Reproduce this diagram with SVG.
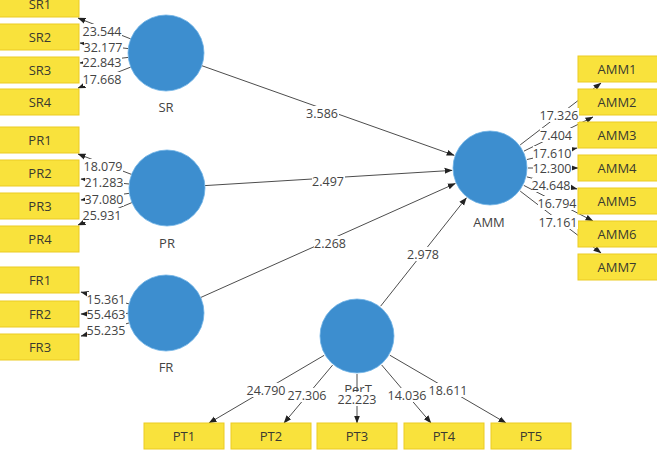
<svg xmlns="http://www.w3.org/2000/svg" width="657" height="450" viewBox="0 0 657 450">
  <style>
    .ind rect { fill: #F9E23C; stroke: #EBCB22; stroke-width: 1; }
    .ind text, .lv text, .lbl text { font-family: "Open Sans", "Noto Sans", sans-serif; fill: #444444; text-anchor: middle; }
    .ind text { font-size: 13px; fill: #3a3a30; }
    .lv circle { fill: #3D8ECF; stroke: #6EB3E6; stroke-width: 0.8; }
    .lv text { font-size: 13px; }
    .edges line { stroke: #4d4d4d; stroke-width: 1; marker-end: url(#arr); }
    .lbl rect { fill: #ffffff; }
    .lbl text { font-size: 12.5px; }
  </style>
  <defs>
    <marker id="arr" markerUnits="userSpaceOnUse" markerWidth="8" markerHeight="8" viewBox="0 0 8 8" refX="7.5" refY="4" orient="auto">
      <path d="M0,1 L8,4 L0,7 Z" fill="#222"/>
    </marker>
  </defs>
  <rect width="657" height="450" fill="#ffffff"/>

  <!-- connectors -->
  <g class="edges">
    <!-- SR loadings -->
    <line x1="130.7" y1="38.9" x2="78" y2="18"/>
    <line x1="128.3" y1="48.6" x2="80" y2="43"/>
    <line x1="128.3" y1="57.4" x2="80" y2="63"/>
    <line x1="130.7" y1="67.1" x2="78" y2="88"/>
    <!-- PR loadings -->
    <line x1="131.5" y1="174.4" x2="78" y2="154"/>
    <line x1="129.2" y1="184" x2="81" y2="179"/>
    <line x1="129.3" y1="193.3" x2="81" y2="200"/>
    <line x1="131.9" y1="202.6" x2="78" y2="225"/>
    <!-- FR loadings -->
    <line x1="129.1" y1="303.9" x2="81" y2="292"/>
    <line x1="128" y1="313.4" x2="81" y2="314"/>
    <line x1="129.3" y1="322.9" x2="81" y2="336"/>
    <!-- AMM loadings -->
    <line x1="520.2" y1="144.9" x2="601" y2="83"/>
    <line x1="524" y1="151.1" x2="593" y2="117"/>
    <line x1="527" y1="159.5" x2="577" y2="148"/>
    <line x1="528" y1="168" x2="578" y2="168"/>
    <line x1="526.9" y1="176.9" x2="577" y2="189"/>
    <line x1="523.8" y1="185.4" x2="593" y2="221"/>
    <line x1="520.2" y1="191.1" x2="601" y2="253"/>
    <!-- PerT loadings -->
    <line x1="324.2" y1="355.3" x2="209" y2="423"/>
    <line x1="332.6" y1="365.1" x2="284" y2="423"/>
    <line x1="357" y1="374" x2="357" y2="423"/>
    <line x1="381.6" y1="364.9" x2="431" y2="423"/>
    <line x1="389.8" y1="355.2" x2="506" y2="423"/>
    <!-- structural paths -->
    <line x1="201.8" y1="65.7" x2="454.2" y2="155.3"/>
    <line x1="204.9" y1="185.6" x2="452.1" y2="170.4"/>
    <line x1="200.7" y1="297.5" x2="455.3" y2="183.5"/>
    <line x1="380.6" y1="306.2" x2="466.4" y2="197.8"/>
  </g>

  <!-- indicators -->
  <g class="ind">
    <g id="SR1"><rect x="-1" y="-9" width="80" height="26"/><text x="40" y="8.5">SR1</text></g>
    <g id="SR2"><rect x="-1" y="24" width="80" height="26"/><text x="40" y="41.5">SR2</text></g>
    <g id="SR3"><rect x="-1" y="57" width="80" height="26"/><text x="40" y="74.5">SR3</text></g>
    <g id="SR4"><rect x="-1" y="89" width="80" height="26"/><text x="40" y="106.5">SR4</text></g>
    <g id="PR1"><rect x="-1" y="127" width="80" height="26"/><text x="40" y="144.5">PR1</text></g>
    <g id="PR2"><rect x="-1" y="160" width="80" height="26"/><text x="40" y="177.5">PR2</text></g>
    <g id="PR3"><rect x="-1" y="193" width="80" height="26"/><text x="40" y="210.5">PR3</text></g>
    <g id="PR4"><rect x="-1" y="226" width="80" height="26"/><text x="40" y="243.5">PR4</text></g>
    <g id="FR1"><rect x="-1" y="267" width="80" height="26"/><text x="40" y="284.5">FR1</text></g>
    <g id="FR2"><rect x="-1" y="301" width="80" height="26"/><text x="40" y="318.5">FR2</text></g>
    <g id="FR3"><rect x="-1" y="334" width="80" height="26"/><text x="40" y="351.5">FR3</text></g>
    <g id="AMM1"><rect x="578" y="56" width="80" height="26"/><text x="617" y="73.5">AMM1</text></g>
    <g id="AMM2"><rect x="578" y="89" width="80" height="26"/><text x="617" y="106.5">AMM2</text></g>
    <g id="AMM3"><rect x="578" y="122" width="80" height="26"/><text x="617" y="139.5">AMM3</text></g>
    <g id="AMM4"><rect x="578" y="155" width="80" height="26"/><text x="617" y="172.5">AMM4</text></g>
    <g id="AMM5"><rect x="578" y="188" width="80" height="26"/><text x="617" y="205.5">AMM5</text></g>
    <g id="AMM6"><rect x="578" y="221" width="80" height="26"/><text x="617" y="238.5">AMM6</text></g>
    <g id="AMM7"><rect x="578" y="254" width="80" height="26"/><text x="617" y="271.5">AMM7</text></g>
    <g id="PT1"><rect x="144" y="423" width="80" height="26"/><text x="184" y="440.5">PT1</text></g>
    <g id="PT2"><rect x="231" y="423" width="80" height="26"/><text x="271" y="440.5">PT2</text></g>
    <g id="PT3"><rect x="317" y="423" width="80" height="26"/><text x="357" y="440.5">PT3</text></g>
    <g id="PT4"><rect x="404" y="423" width="80" height="26"/><text x="444" y="440.5">PT4</text></g>
    <g id="PT5"><rect x="491" y="423" width="80" height="26"/><text x="531" y="440.5">PT5</text></g>
  </g>

  <!-- latent variables -->
  <g class="lv">
    <g id="SR"><circle cx="166" cy="53" r="38"/><text x="166" y="112">SR</text></g>
    <g id="PR"><circle cx="167" cy="188" r="38"/><text x="167" y="248">PR</text></g>
    <g id="FR"><circle cx="166" cy="313" r="38"/><text x="166" y="372">FR</text></g>
    <g id="AMM"><circle cx="490" cy="168" r="37"/><text x="489" y="227">AMM</text></g>
    <g id="PerT"><circle cx="357" cy="336" r="37"/><text x="358" y="394">PerT</text></g>
  </g>

  <!-- coefficient labels -->
  <g class="lbl">
    <rect x="83" y="24" width="39" height="14"/><text x="102" y="35.5">23.544</text>
    <rect x="84" y="40" width="39" height="14"/><text x="103" y="51.5">32.177</text>
    <rect x="83" y="55" width="39" height="14"/><text x="102" y="66.5">22.843</text>
    <rect x="83" y="72" width="39" height="14"/><text x="102" y="83.5">17.668</text>

    <rect x="84" y="159" width="39" height="14"/><text x="103" y="170.5">18.079</text>
    <rect x="85" y="175" width="39" height="14"/><text x="104" y="186.5">21.283</text>
    <rect x="85" y="192" width="39" height="14"/><text x="104" y="203.5">37.080</text>
    <rect x="83" y="208" width="39" height="14"/><text x="102" y="219.5">25.931</text>

    <rect x="87" y="292" width="39" height="14"/><text x="106" y="303.5">15.361</text>
    <rect x="87" y="307" width="39" height="14"/><text x="106" y="318.5">55.463</text>
    <rect x="87" y="323" width="39" height="14"/><text x="106" y="334.5">55.235</text>

    <rect x="540" y="108" width="39" height="14"/><text x="559" y="119.5">17.326</text>
    <rect x="540" y="128" width="33" height="14"/><text x="556" y="139.5">7.404</text>
    <rect x="533" y="146" width="39" height="14"/><text x="552" y="157.5">17.610</text>
    <rect x="533" y="161" width="39" height="14"/><text x="552" y="172.5">12.300</text>
    <rect x="532" y="178" width="39" height="14"/><text x="551" y="189.5">24.648</text>
    <rect x="538" y="196" width="39" height="14"/><text x="557" y="207.5">16.794</text>
    <rect x="539" y="215" width="39" height="14"/><text x="558" y="226.5">17.161</text>

    <rect x="247" y="383" width="39" height="14"/><text x="266" y="394.5">24.790</text>
    <rect x="288" y="388" width="39" height="14"/><text x="307" y="399.5">27.306</text>
    <rect x="338" y="392" width="39" height="14"/><text x="357" y="403.5">22.223</text>
    <rect x="388" y="388" width="39" height="14"/><text x="407" y="399.5">14.036</text>
    <rect x="429" y="383" width="39" height="14"/><text x="448" y="394.5">18.611</text>

    <rect x="306" y="106" width="33" height="14"/><text x="322" y="117.5">3.586</text>
    <rect x="312" y="174" width="33" height="14"/><text x="328" y="185.5">2.497</text>
    <rect x="314" y="236" width="33" height="14"/><text x="330" y="247.5">2.268</text>
    <rect x="407" y="247" width="33" height="14"/><text x="423" y="258.5">2.978</text>
  </g>
</svg>
